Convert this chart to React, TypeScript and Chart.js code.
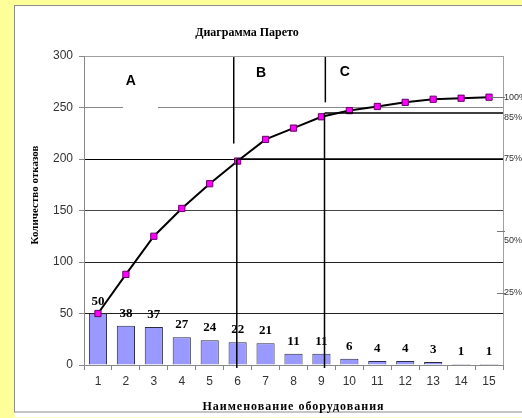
import React, { useEffect, useRef } from 'react';
import { Chart, registerables } from 'chart.js';

Chart.register(...registerables);

// ---- data ----
const categories = ['1', '2', '3', '4', '5', '6', '7', '8', '9', '10', '11', '12', '13', '14', '15'];
const failures = [50, 38, 37, 27, 24, 22, 21, 11, 11, 6, 4, 4, 3, 1, 1];
const cumulative = [50, 88, 125, 152, 176, 198, 219, 230, 241, 247, 251, 255, 258, 259, 260];

const yMin = 0;
const yMax = 300;
const yStep = 50;

const chartTitle = 'Диаграмма Парето';
const yTitle = 'Количество отказов';
const xTitle = 'Наименование оборудования';

// right-hand percentage annotations (values on the count axis)
const percentLabels = ['100%', '85%', '75%', '50%', '25%'];
const percentTextValues = [260, 240, 200, 121, 70];
const percentTickValues = [260, 244.7, 200, 130, 70];
const percentHasTick = [true, false, false, true, true];

// ABC zone letters (category index, count value)
const zoneLetters = ['A', 'B', 'C'];
const zoneLetterX = [1.18, 5.84, 8.84];
const zoneLetterY = [276, 283, 284];

// dividers between zones
const dividerUpperX = [4.86, 8.14];
const dividerUpperTop = [299, 299];
const dividerUpperBottom = [215, 255];
const dividerLowerX = [4.97, 8.11];
const dividerLevel = [200, 244.7];
const dividerLowerBottom = -3;

// white box of letter "A" that hides part of the 250 gridline
const gapFromX = 0.9;
const gapToX = 2.15;
const gapValue = 250;

const gridColorFor = (v: number) => {
  if (v === 300) return '#a0a0a0';
  if (v === 250) return '#8a8a8a';
  if (v === 200) return '#000000';
  if (v === 150) return '#444444';
  if (v === 0) return 'rgba(0,0,0,0)';
  return '#222222';
};

const SERIF = '"Liberation Serif", "Times New Roman", serif';
const SANS = '"Liberation Sans", Arial, sans-serif';

const decorPlugin = {
  id: 'decor',
  beforeDraw(chart: any) {
    const { ctx, width, height } = chart;
    ctx.save();
    ctx.fillStyle = '#FFFF99';
    ctx.fillRect(0, 0, width, height);
    ctx.fillStyle = '#ffffff';
    ctx.fillRect(14.5, 5.5, width + 10, height - 6);
    ctx.strokeStyle = '#8c8c8c';
    ctx.lineWidth = 1;
    ctx.strokeRect(14.5, 5.5, width + 10, height - 6.5 - 5);
    ctx.restore();
  },
  beforeDatasetsDraw(chart: any) {
    const { ctx, chartArea } = chart;
    const x = chart.scales.x;
    const y = chart.scales.y;
    ctx.save();
    // right border of plot area
    ctx.strokeStyle = '#a0a0a0';
    ctx.lineWidth = 1;
    ctx.beginPath();
    ctx.moveTo(Math.round(chartArea.right) + 0.5, chartArea.top);
    ctx.lineTo(Math.round(chartArea.right) + 0.5, chartArea.bottom);
    ctx.stroke();
    // gap in 250 line
    ctx.fillStyle = '#ffffff';
    const gy = y.getPixelForValue(gapValue);
    const g1 = x.getPixelForValue(gapFromX);
    const g2 = x.getPixelForValue(gapToX);
    ctx.fillRect(g1, gy - 2, g2 - g1, 4);
    ctx.restore();
  },
  afterDatasetsDraw(chart: any) {
    const { ctx, chartArea } = chart;
    const x = chart.scales.x;
    const y = chart.scales.y;
    ctx.save();
    // bar value labels
    const meta = chart.getDatasetMeta(1);
    ctx.font = 'bold 13px ' + SERIF;
    ctx.fillStyle = '#000';
    ctx.textAlign = 'center';
    ctx.textBaseline = 'alphabetic';
    meta.data.forEach((bar: any, i: number) => {
      ctx.fillText(String(failures[i]), bar.x, bar.y - 9);
    });

    // divider lines
    ctx.strokeStyle = '#000';
    ctx.lineWidth = 1.5;
    for (let i = 0; i < dividerUpperX.length; i++) {
      const ux = x.getPixelForValue(dividerUpperX[i]);
      ctx.beginPath();
      ctx.moveTo(ux, y.getPixelForValue(dividerUpperTop[i]));
      ctx.lineTo(ux, y.getPixelForValue(dividerUpperBottom[i]));
      ctx.stroke();
      const lx = x.getPixelForValue(dividerLowerX[i]);
      const ly = y.getPixelForValue(dividerLevel[i]);
      ctx.beginPath();
      ctx.moveTo(lx, ly);
      ctx.lineTo(lx, y.getPixelForValue(dividerLowerBottom));
      ctx.stroke();
      ctx.beginPath();
      ctx.moveTo(lx, ly);
      ctx.lineTo(chartArea.right, ly);
      ctx.stroke();
    }

    // zone letters
    ctx.font = 'bold 14px ' + SANS;
    ctx.textBaseline = 'middle';
    ctx.textAlign = 'center';
    for (let i = 0; i < zoneLetters.length; i++) {
      ctx.fillText(zoneLetters[i], x.getPixelForValue(zoneLetterX[i]), y.getPixelForValue(zoneLetterY[i]));
    }

    // percentage annotations
    ctx.font = '9px ' + SANS;
    ctx.fillStyle = '#333';
    ctx.textAlign = 'left';
    ctx.textBaseline = 'middle';
    ctx.strokeStyle = '#777';
    ctx.lineWidth = 1;
    for (let i = 0; i < percentLabels.length; i++) {
      const ty = y.getPixelForValue(percentTickValues[i]);
      if (percentHasTick[i]) {
        const startX = i === 0 ? x.getPixelForValue(categories.length - 1) : chartArea.right - 6;
        ctx.beginPath();
        ctx.moveTo(startX, Math.round(ty) + 0.5);
        ctx.lineTo(chartArea.right + 2, Math.round(ty) + 0.5);
        ctx.stroke();
      }
      ctx.fillText(percentLabels[i], chartArea.right + 1, y.getPixelForValue(percentTextValues[i]));
    }
    ctx.restore();
  },
  afterDraw(chart: any) {
    const { ctx, chartArea } = chart;
    ctx.save();
    ctx.fillStyle = '#000';
    ctx.textAlign = 'center';
    ctx.textBaseline = 'middle';
    ctx.font = 'bold 12px ' + SERIF;
    ctx.fillText(chartTitle, 247, 33);
    ctx.font = 'bold 12px ' + SERIF;
    (ctx as any).letterSpacing = '1px';
    ctx.fillText(xTitle, (chartArea.left + chartArea.right) / 2, 407);
    (ctx as any).letterSpacing = '0px';
    ctx.translate(35, 195);
    ctx.rotate(-Math.PI / 2);
    ctx.font = 'bold 11px ' + SERIF;
    ctx.fillText(yTitle, 0, 0);
    ctx.restore();
  },
};

export default function App() {
  const ref = useRef<HTMLCanvasElement | null>(null);
  useEffect(() => {
    document.body.style.margin = '0';
    if (!ref.current) return;
    const chart = new Chart(ref.current, {
      type: 'bar',
      data: {
        labels: categories,
        datasets: [
          {
            type: 'line',
            label: 'Накопленные отказы',
            data: cumulative,
            borderColor: '#000',
            borderWidth: 2,
            pointStyle: 'rect',
            pointRadius: 4.4,
            pointBackgroundColor: '#FF00FF',
            pointBorderColor: '#660066',
            pointBorderWidth: 1,
            tension: 0,
            order: 0,
          } as any,
          {
            type: 'bar',
            label: 'Отказы',
            data: failures,
            backgroundColor: '#9999FF',
            borderColor: '#2a2a4a',
            borderWidth: 1,
            barPercentage: 0.65,
            categoryPercentage: 1,
            order: 1,
          },
        ],
      },
      options: {
        responsive: false,
        animation: false,
        layout: { padding: { top: 56, right: 19, left: 0, bottom: 0 } },
        plugins: {
          legend: { display: false },
          tooltip: { enabled: false },
          title: { display: false },
        },
        scales: {
          x: {
            type: 'category',
            offset: true,
            grid: {
              offset: true,
              drawOnChartArea: false,
              drawTicks: true,
              tickLength: 5,
              color: '#888',
              tickColor: '#888',
            },
            border: { color: '#888', width: 1 },
            ticks: {
              color: '#333',
              font: { family: SANS, size: 12 },
              padding: 4,
              maxRotation: 0,
              autoSkip: false,
            },
            afterFit(scale: any) {
              scale.height = 53;
            },
          },
          y: {
            min: yMin,
            max: yMax,
            ticks: {
              stepSize: yStep,
              color: '#333',
              font: { family: SANS, size: 12 },
              padding: 6,
            },
            grid: {
              color: (c: any) => gridColorFor(c.tick ? c.tick.value : -1),
              tickColor: '#888',
              tickLength: 5,
              lineWidth: 1,
            },
            border: { color: '#888', width: 1 },
            afterFit(scale: any) {
              scale.width = 84;
            },
          },
        },
      },
      plugins: [decorPlugin],
    });
    return () => chart.destroy();
  }, []);
  return (
    <div style={{ position: 'fixed', left: 0, top: 0, width: 522, height: 418 }}>
      <canvas ref={ref} width={522} height={418} style={{ display: 'block' }} />
    </div>
  );
}
